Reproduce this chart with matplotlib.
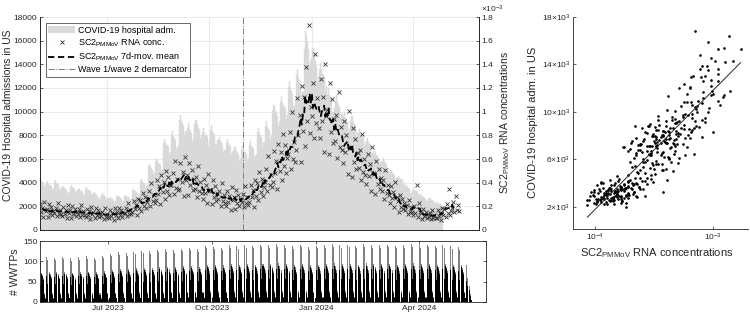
import numpy as np
import pandas as pd
import matplotlib
matplotlib.use('Agg')
import matplotlib.pyplot as plt
import matplotlib.ticker as mticker
from matplotlib.patches import Patch
from matplotlib.lines import Line2D

plt.rcParams['font.family'] = ['Liberation Sans', 'DejaVu Sans']
plt.rcParams['mathtext.fontset'] = 'custom'
plt.rcParams['mathtext.rm'] = 'Liberation Sans'
plt.rcParams['mathtext.it'] = 'Liberation Sans:italic'
plt.rcParams['mathtext.bf'] = 'Liberation Sans:bold'

# daily COVID-19 hospital admissions in US, one row per week (Mon..Sun), from 2023-05-01
hosp_start = '2023-05-01'
hosp_weeks = [
    [4220, 4400, 4180, 4090, 4000, 3650, 3780],
    [3940, 4100, 3900, 3810, 3730, 3400, 3530],
    [4030, 4200, 3990, 3910, 3820, 3490, 3610],
    [3550, 3700, 3520, 3440, 3370, 3070, 3180],
    [3650, 3800, 3610, 3530, 3460, 3150, 3270],
    [3360, 3500, 3330, 3260, 3190, 2910, 3010],
    [3460, 3600, 3420, 3350, 3280, 2990, 3100],
    [3070, 3200, 3040, 2980, 2910, 2660, 2750],
    [2980, 3100, 2950, 2880, 2820, 2570, 2670],
    [2690, 2800, 2660, 2600, 2550, 2320, 2410],
    [2780, 2900, 2760, 2700, 2640, 2410, 2490],
    [2880, 3000, 2850, 2790, 2730, 2490, 2580],
    [3360, 3500, 3330, 3260, 3190, 2910, 3010],
    [4130, 4300, 4090, 4000, 3910, 3570, 3700],
    [5380, 5600, 5320, 5210, 5100, 4650, 4820],
    [5760, 6000, 5700, 5580, 5460, 4980, 5160],
    [7390, 7700, 7320, 7160, 7010, 6390, 6620],
    [8060, 8400, 7980, 7810, 7640, 6970, 7220],
    [9310, 9700, 9220, 9020, 8830, 8050, 8340],
    [8640, 9000, 8550, 8370, 8190, 7470, 7740],
    [8930, 9300, 8840, 8650, 8460, 7720, 8000],
    [8260, 8600, 8170, 8000, 7830, 7140, 7400],
    [8450, 8800, 8360, 8180, 8010, 7300, 7570],
    [7580, 7900, 7510, 7350, 7190, 6560, 6790],
    [7390, 7700, 7320, 7160, 7010, 6390, 6620],
    [6720, 7000, 6650, 6510, 6370, 5810, 6020],
    [6800, 7100, 6700, 6550, 6400, 5900, 6100],
    [7200, 7500, 7130, 6980, 6830, 6230, 6450],
    [8260, 8600, 8170, 8000, 7830, 7140, 7400],
    [8830, 9200, 8740, 8560, 8370, 7640, 7910],
    [10180, 10600, 10070, 9860, 9650, 8800, 9120],
    [10850, 11300, 10740, 10510, 10280, 9380, 9720],
    [12100, 12600, 11970, 11720, 11470, 10460, 10840],
    [13060, 13600, 12920, 12650, 12380, 11290, 11700],
    [15300, 16800, 16400, 15900, 15300, 13900, 14300],
    [14500, 15400, 14800, 14300, 13900, 12600, 13000],
    [13630, 14200, 13490, 13210, 12920, 11790, 12210],
    [11520, 12000, 11400, 11160, 10920, 9960, 10320],
    [10940, 11400, 10830, 10600, 10370, 9460, 9800],
    [9600, 10000, 9500, 9300, 9100, 8300, 8600],
    [9220, 9600, 9120, 8930, 8740, 7970, 8260],
    [8160, 8500, 8080, 7910, 7740, 7060, 7310],
    [7490, 7800, 7410, 7250, 7100, 6470, 6710],
    [6430, 6700, 6370, 6230, 6100, 5560, 5760],
    [5860, 6100, 5800, 5670, 5550, 5060, 5250],
    [4900, 5100, 4850, 4740, 4640, 4230, 4390],
    [4420, 4600, 4370, 4280, 4190, 3820, 3960],
    [3650, 3800, 3610, 3530, 3460, 3150, 3270],
    [3360, 3500, 3330, 3260, 3190, 2910, 3010],
    [2780, 2900, 2760, 2700, 2640, 2410, 2490],
    [2590, 2700, 2570, 2510, 2460, 2240, 2320],
    [2260, 2350, 2230, 2190, 2140, 1950],
]

# daily SC2/PMMoV RNA concentration (x 1e-3), one row per week, from 2023-05-01
rna_start = '2023-05-01'
rna_weeks = [
    [0.133, 0.218, 0.156, 0.190, 0.112, 0.238, 0.163],
    [0.176, 0.112, 0.216, 0.144, 0.192, 0.128, 0.163],
    [0.147, 0.189, 0.118, 0.227, 0.138, 0.170, 0.131],
    [0.117, 0.192, 0.138, 0.168, 0.099, 0.210, 0.144],
    [0.165, 0.105, 0.203, 0.135, 0.180, 0.120, 0.153],
    [0.138, 0.177, 0.111, 0.213, 0.129, 0.159, 0.123],
    [0.109, 0.179, 0.129, 0.157, 0.092, 0.196, 0.134],
    [0.154, 0.098, 0.189, 0.126, 0.168, 0.112, 0.143],
    [0.120, 0.153, 0.096, 0.185, 0.112, 0.138, 0.107],
    [0.101, 0.166, 0.120, 0.146, 0.086, 0.182, 0.125],
    [0.154, 0.098, 0.189, 0.126, 0.168, 0.112, 0.143],
    [0.147, 0.189, 0.118, 0.227, 0.138, 0.170, 0.131],
    [0.148, 0.243, 0.175, 0.213, 0.125, 0.266, 0.182],
    [0.253, 0.161, 0.311, 0.207, 0.276, 0.184, 0.235],
    [0.258, 0.330, 0.207, 0.398, 0.241, 0.297, 0.230],
    [0.257, 0.422, 0.304, 0.370, 0.218, 0.462, 0.317],
    [0.407, 0.259, 0.500, 0.333, 0.444, 0.296, 0.377],
    [0.377, 0.484, 0.303, 0.582, 0.353, 0.435, 0.336],
    [0.343, 0.563, 0.405, 0.493, 0.290, 0.616, 0.422],
    [0.462, 0.294, 0.567, 0.378, 0.504, 0.336, 0.428],
    [0.350, 0.448, 0.281, 0.540, 0.327, 0.403, 0.312],
    [0.265, 0.435, 0.313, 0.381, 0.224, 0.476, 0.326],
    [0.341, 0.217, 0.419, 0.279, 0.372, 0.248, 0.316],
    [0.258, 0.330, 0.207, 0.398, 0.241, 0.297, 0.230],
    [0.203, 0.333, 0.239, 0.291, 0.172, 0.364, 0.250],
    [0.275, 0.175, 0.338, 0.225, 0.300, 0.200, 0.255],
    [0.239, 0.307, 0.192, 0.369, 0.224, 0.276, 0.213],
    [0.234, 0.384, 0.276, 0.336, 0.198, 0.420, 0.288],
    [0.396, 0.252, 0.486, 0.324, 0.432, 0.288, 0.367],
    [0.405, 0.519, 0.326, 0.625, 0.378, 0.466, 0.361],
    [0.406, 0.666, 0.478, 0.582, 0.343, 0.728, 0.499],
    [0.660, 0.420, 0.810, 0.540, 0.720, 0.480, 0.612],
    [0.644, 0.826, 0.518, 0.994, 0.602, 0.742, 0.574],
    [0.679, 1.114, 0.800, 0.974, 0.574, 1.218, 0.835],
    [1.122, 0.714, 1.377, 0.918, 1.730, 0.816, 1.040],
    [0.966, 1.239, 0.777, 1.491, 0.903, 1.113, 0.861],
    [0.780, 1.280, 0.920, 1.120, 0.660, 1.400, 0.960],
    [1.012, 0.644, 1.242, 0.828, 1.104, 0.736, 0.938],
    [0.754, 0.968, 0.607, 1.164, 0.705, 0.869, 0.672],
    [0.562, 0.922, 0.662, 0.806, 0.475, 1.008, 0.691],
    [0.704, 0.448, 0.864, 0.576, 0.768, 0.512, 0.653],
    [0.524, 0.673, 0.422, 0.809, 0.490, 0.604, 0.467],
    [0.390, 0.640, 0.460, 0.560, 0.330, 0.700, 0.480],
    [0.473, 0.301, 0.581, 0.387, 0.516, 0.344, 0.439],
    [0.331, 0.425, 0.266, 0.511, 0.310, 0.382, 0.295],
    [0.226, 0.371, 0.267, 0.325, 0.191, 0.406, 0.278],
    [0.242, 0.154, 0.297, 0.198, 0.264, 0.176, 0.224],
    [0.166, 0.212, 0.133, 0.256, 0.155, 0.191, 0.148],
    [0.125, 0.205, 0.147, 0.380, 0.106, 0.224, 0.154],
    [0.143, 0.091, 0.176, 0.117, 0.156, 0.104, 0.133],
    [0.110, 0.142, 0.089, 0.170, 0.103, 0.127, 0.098],
    [0.101, 0.166, 0.120, 0.146, 0.086, 0.182, 0.125],
    [0.176, 0.112, 0.216, 0.144, 0.350, 0.128, 0.163],
    [0.184, 0.236, 0.148, 0.284, 0.172, 0.212, 0.164],
]

# number of WWTPs reporting per day (all sites / subset), one row per week, from 2023-05-01
wwtp_start = '2023-05-01'
wwtp_all_weeks = [
    [108, 102, 72, 67, 59, 22, 10], [110, 104, 74, 68, 61, 22, 10],
    [109, 103, 73, 68, 60, 21, 10], [111, 105, 74, 69, 61, 23, 11],
    [108, 102, 72, 67, 59, 22, 10], [110, 104, 74, 68, 61, 22, 10],
    [112, 106, 75, 69, 62, 22, 10], [109, 103, 73, 68, 60, 21, 10],
    [113, 107, 76, 70, 62, 23, 11], [118, 112, 79, 73, 65, 23, 11],
    [122, 116, 82, 76, 67, 24, 11], [120, 114, 80, 74, 66, 23, 10],
    [124, 118, 83, 77, 68, 24, 11], [126, 120, 84, 78, 69, 24, 11],
    [125, 119, 84, 78, 69, 23, 10], [128, 122, 86, 79, 70, 24, 11],
    [130, 124, 87, 81, 72, 25, 11], [127, 121, 85, 79, 70, 24, 11],
    [131, 125, 88, 81, 72, 25, 12], [133, 127, 89, 82, 73, 25, 12],
    [130, 124, 87, 81, 72, 25, 11], [138, 132, 92, 86, 76, 26, 12],
    [136, 130, 91, 84, 75, 26, 12], [134, 128, 90, 83, 74, 25, 11],
    [139, 133, 93, 86, 76, 26, 12], [137, 131, 92, 85, 75, 26, 12],
    [140, 134, 94, 87, 77, 26, 12], [138, 132, 92, 86, 76, 26, 12],
    [141, 135, 94, 87, 78, 27, 12], [139, 133, 93, 86, 76, 26, 12],
    [142, 136, 95, 88, 78, 27, 12], [140, 134, 94, 87, 77, 26, 12],
    [137, 131, 92, 85, 75, 26, 12], [141, 135, 94, 87, 78, 27, 12],
    [135, 129, 90, 84, 74, 25, 11], [138, 132, 92, 86, 76, 26, 12],
    [140, 134, 94, 87, 77, 26, 12], [142, 136, 95, 88, 78, 27, 12],
    [139, 133, 93, 86, 76, 26, 12], [141, 135, 94, 87, 78, 27, 12],
    [138, 132, 92, 86, 76, 26, 12], [142, 136, 95, 88, 78, 27, 12],
    [140, 134, 94, 87, 77, 26, 12], [139, 133, 93, 86, 76, 26, 12],
    [141, 135, 94, 87, 78, 27, 12], [138, 132, 92, 86, 76, 26, 12],
    [140, 134, 94, 87, 77, 26, 12], [142, 136, 95, 88, 78, 27, 12],
    [139, 133, 93, 86, 76, 26, 12], [141, 135, 94, 87, 78, 27, 12],
    [138, 132, 92, 86, 76, 26, 12], [140, 134, 94, 87, 77, 26, 12],
    [137, 131, 92, 85, 75, 26, 12], [135, 129, 90, 84, 74, 25, 11],
    [90, 60, 40, 20, 6],
]
wwtp_sub_weeks = [
    [62, 43, 68, 63, 55, 18, 8], [63, 44, 69, 64, 56, 18, 8],
    [62, 44, 69, 63, 56, 18, 8], [63, 44, 70, 64, 57, 19, 9],
    [62, 43, 68, 63, 55, 18, 8], [63, 44, 69, 64, 56, 18, 8],
    [64, 45, 71, 65, 57, 18, 8], [62, 44, 69, 63, 56, 18, 8],
    [64, 45, 71, 66, 58, 19, 9], [67, 47, 74, 68, 60, 19, 9],
    [70, 49, 77, 71, 62, 20, 9], [68, 48, 76, 70, 61, 19, 8],
    [71, 50, 78, 72, 63, 20, 9], [72, 50, 79, 73, 64, 20, 9],
    [71, 50, 79, 73, 64, 19, 8], [73, 51, 81, 74, 65, 20, 9],
    [74, 52, 82, 75, 66, 21, 9], [72, 51, 80, 74, 65, 20, 9],
    [75, 52, 83, 76, 67, 21, 10], [76, 53, 84, 77, 68, 21, 10],
    [74, 52, 82, 75, 66, 21, 9], [79, 55, 87, 80, 70, 22, 10],
    [78, 54, 86, 79, 69, 22, 10], [76, 54, 84, 78, 68, 21, 9],
    [79, 56, 88, 81, 71, 22, 10], [78, 55, 86, 79, 70, 22, 10],
    [80, 56, 88, 81, 71, 22, 10], [79, 55, 87, 80, 70, 22, 10],
    [80, 56, 89, 82, 72, 23, 10], [79, 56, 88, 81, 71, 22, 10],
    [81, 57, 89, 82, 72, 23, 10], [80, 56, 88, 81, 71, 22, 10],
    [78, 55, 86, 79, 70, 22, 10], [80, 56, 89, 82, 72, 23, 10],
    [77, 54, 85, 78, 69, 21, 9], [79, 55, 87, 80, 70, 22, 10],
    [80, 56, 88, 81, 71, 22, 10], [81, 57, 89, 82, 72, 23, 10],
    [79, 56, 88, 81, 71, 22, 10], [80, 56, 89, 82, 72, 23, 10],
    [79, 55, 87, 80, 70, 22, 10], [81, 57, 89, 82, 72, 23, 10],
    [80, 56, 88, 81, 71, 22, 10], [79, 56, 88, 81, 71, 22, 10],
    [80, 56, 89, 82, 72, 23, 10], [79, 55, 87, 80, 70, 22, 10],
    [80, 56, 88, 81, 71, 22, 10], [81, 57, 89, 82, 72, 23, 10],
    [79, 56, 88, 81, 71, 22, 10], [80, 56, 89, 82, 72, 23, 10],
    [79, 55, 87, 80, 70, 22, 10], [80, 56, 88, 81, 71, 22, 10],
    [78, 55, 86, 79, 70, 22, 10], [77, 54, 85, 78, 69, 21, 9],
    [52, 40, 30, 15, 4],
]

wave_split = '2023-10-31'
xlim_dates = ['2023-05-02', '2024-05-30']
quarter_ticks = ['2023-07-01', '2023-10-01', '2024-01-01', '2024-04-01']
quarter_labels = ['Jul 2023', 'Oct 2023', 'Jan 2024', 'Apr 2024']

hosp = np.array([v for w in hosp_weeks for v in w], dtype=float)
hosp_dates = pd.date_range(hosp_start, periods=len(hosp), freq='D')
rna = np.array([v for w in rna_weeks for v in w], dtype=float)
rna_dates = pd.date_range(rna_start, periods=len(rna), freq='D')
rna_mean = pd.Series(rna).rolling(7, center=True).mean().values
wwtp_all = np.array([v for w in wwtp_all_weeks for v in w], dtype=float)
wwtp_sub = np.array([v for w in wwtp_sub_weeks for v in w], dtype=float)
wwtp_dates = pd.date_range(wwtp_start, periods=len(wwtp_all), freq='D')

dark = '#262626'
W, H = 750, 313
fig = plt.figure(figsize=(7.5, 3.13), dpi=100)


def box(l, t, r, b):
    return [l / W, 1 - b / H, (r - l) / W, (b - t) / H]


def style(a):
    a.tick_params(direction='in', length=2.5, width=0.5, labelsize=6,
                  colors=dark, pad=2)
    for s in a.spines.values():
        s.set_color(dark)
        s.set_linewidth(0.6)


# main panel
ax = fig.add_axes(box(40, 17, 479, 230))
ax.bar(hosp_dates, hosp, width=1.0, color='#d9d9d9', edgecolor='#d9d9d9',
       linewidth=0.3, zorder=1)
ax.axvline(pd.Timestamp(wave_split), color='#7f7f7f', ls='-.', lw=0.7, zorder=3)
ax.set_ylim(0, 18000)
ax.set_yticks(np.arange(0, 18001, 2000))
ax.set_xlim(pd.Timestamp(xlim_dates[0]), pd.Timestamp(xlim_dates[1]))
ax.set_xticks([pd.Timestamp(d) for d in quarter_ticks])
ax.set_xticklabels([])
ax.grid(True, color='#e3e3e3', lw=0.5)
ax.set_axisbelow(True)
style(ax)
ax.tick_params(axis='x', length=0)
ax.spines['top'].set_visible(False)

ax2 = ax.twinx()
ax2.plot(rna_dates, rna, 'x', ms=3.2, mew=0.6, color='#333333', zorder=4)
ax2.plot(rna_dates, rna_mean, color='black', ls=(0, (3.5, 2)), lw=1.3, zorder=5)
ax2.set_ylim(0, 1.8)
ax2.set_yticks(np.arange(0, 1.81, 0.2))
ax2.yaxis.set_major_formatter(mticker.FuncFormatter(lambda v, p: '%g' % round(v, 1)))
style(ax2)
ax2.spines['top'].set_visible(False)
fig.text(481 / W, 1 - 9 / H, r'$\times$10$^{-3}$', fontsize=6, color=dark,
         ha='left', va='center')

handles = [
    Patch(facecolor='#d9d9d9', edgecolor='none'),
    Line2D([], [], ls='none', marker='x', ms=3.2, mew=0.6, color='#333333'),
    Line2D([], [], color='black', ls=(0, (3.5, 2)), lw=1.3),
    Line2D([], [], color='#7f7f7f', ls='-.', lw=0.7),
]
labels = ['COVID-19 hospital adm.', r'SC2$_{\mathregular{PMMoV}}$ RNA conc.',
          r'SC2$_{\mathregular{PMMoV}}$ 7d-mov. mean', 'Wave 1/wave 2 demarcator']
leg = ax2.legend(handles, labels, loc='upper left', bbox_to_anchor=(0.013, 0.972),
                 borderaxespad=0, fontsize=6.5, frameon=True, fancybox=False,
                 handlelength=3.0, handletextpad=0.3, labelspacing=0.2,
                 borderpad=0.3)
leg.get_frame().set_edgecolor(dark)
leg.get_frame().set_linewidth(0.6)

fig.text(8 / W, 1 - 115 / H, 'COVID-19 Hospital admissions in US', rotation=90,
         ha='center', va='center', fontsize=7.5, color=dark)
fig.text(505 / W, 1 - 122 / H, r'SC2$_{\mathregular{PMMoV}}$ RNA concentrations',
         rotation=90, ha='center', va='center', fontsize=7.5, color=dark)

# lower panel: WWTP counts
ax3 = fig.add_axes(box(40, 241, 486, 302))
ax3.bar(wwtp_dates, wwtp_all, width=0.9, color='#808080', linewidth=0)
ax3.bar(wwtp_dates, wwtp_sub, width=0.9, color='black', linewidth=0)
ax3.set_xlim(pd.Timestamp(xlim_dates[0]), pd.Timestamp(xlim_dates[1]))
ax3.set_ylim(0, 150)
ax3.set_yticks([0, 50, 100, 150])
ax3.set_xticks([pd.Timestamp(d) for d in quarter_ticks])
ax3.set_xticklabels(quarter_labels)
style(ax3)
ax3.tick_params(top=True, right=True, labelright=False)
fig.text(15 / W, 1 - 272 / H, '# WWTPs', rotation=90, ha='center', va='center',
         fontsize=7.5, color=dark)

# scatter panel: admissions vs RNA concentration with log-linear fit
ax4 = fig.add_axes(box(573, 17, 748, 229))
n = min(len(hosp), len(rna))
sx = rna[:n] * 1e-3
sy = hosp[:n]
ax4.plot(sx, sy, '.', ms=1.8, color='black')
coef = np.polyfit(np.log10(sx), sy, 1)
lx = np.array([sx.min(), sx.max()])
ax4.plot(lx, np.polyval(coef, np.log10(lx)), color=dark, lw=0.7)
ax4.set_xscale('log')
ax4.set_xlim(6.5e-5, 2.0e-3)
ax4.set_ylim(120, 18000)
ax4.set_xticks([1e-4, 1e-3])
ax4.set_xticklabels([r'10$^{-4}$', r'10$^{-3}$'])
ax4.xaxis.set_minor_locator(mticker.NullLocator())
ax4.set_yticks([2000, 6000, 10000, 14000, 18000])
ax4.set_yticklabels([r'2$\times$10$^3$', r'6$\times$10$^3$', r'10$\times$10$^3$',
                     r'14$\times$10$^3$', r'18$\times$10$^3$'])
style(ax4)
ax4.spines['top'].set_visible(False)
ax4.spines['right'].set_visible(False)
fig.text(533 / W, 1 - 122 / H, 'COVID-19 hospital adm. in US', rotation=90,
         ha='center', va='center', fontsize=8, color=dark)
fig.text(657 / W, 1 - 253 / H, r'SC2$_{\mathregular{PMMoV}}$ RNA concentrations',
         ha='center', va='center', fontsize=8, color=dark)

fig.savefig('out.png', dpi=100)
